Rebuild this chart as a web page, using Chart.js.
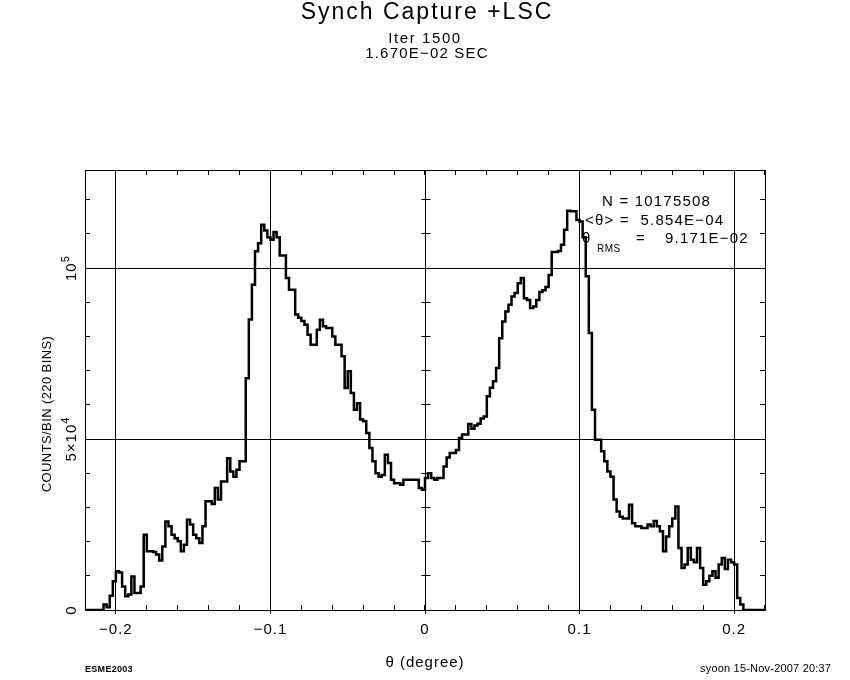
<!DOCTYPE html>
<html lang="en">
<head>
<meta charset="UTF-8">
<title>Synch Capture +LSC</title>
<script src="https://cdn.jsdelivr.net/npm/chart.js"></script>
<style>
  html, body { margin: 0; padding: 0; background: #fff; }
</style>
</head>
<body>
<canvas id="histo" width="850" height="680"></canvas>

<script>
// 220 bins between -0.22 and 0.22 degree
var xMin = -0.22, xMax = 0.22, nBins = 220;
var yMax = 128700;

// counts per bin
var counts = [
    0,     0,     0,     0,     0,     0,     0,  1600,   800,  4200,
 8400, 11300, 11000,  6900,  4000,  4500,  9800,  5000,  5000,  6900,
22000, 17200, 17200, 17000, 16200, 14500, 18600, 25900, 24500, 22000,
21000, 20100, 17200, 19100, 26400, 25000, 22000, 21000, 19600, 24500,
31800, 31800, 31000, 35700, 32300, 37600, 37600, 44400, 40500, 39000,
41000, 43500, 43500, 67800, 85000, 95100,104900,107300,112700,111000,
109000,108300,110600,109000,103700,103700, 97100, 93700, 93700, 86400,
85500, 84500, 83400, 80500, 77600, 77600, 82000, 84900, 83000, 82500,
82500, 80000, 77600, 77600, 74200, 64900, 69800, 63500, 58600, 60500,
55700, 55200, 51800, 47400, 43500, 40000, 39000, 39500, 45400, 43000,
38100, 37100, 37100, 36600, 38100, 38100, 38100, 38100, 38100, 35700,
35200, 38600, 40000, 38600, 38100, 38600, 38600, 42000, 44600, 45900,
45900, 46800, 50300, 51300, 51300, 54400, 53000, 54000, 54500, 56000,
56600, 62500, 65000, 66900, 70800, 79500, 84400, 87300, 89300, 91700,
92700, 95600, 97100, 91200, 90700, 88300, 88800, 90700, 93000, 93500,
94500, 98000,104700,104700,105000,106800,111200,116800,116600,116600,
114100,113600,109000, 97600, 81000, 58600, 49800, 49800, 46400, 43500,
40500, 39000, 32300, 28800, 27300, 26800, 26800, 30800, 25400, 24500,
24500, 24000, 24000, 25000, 24500, 26000, 24500, 23000, 17200, 21500,
24500, 26800, 30300, 18100, 12300, 13300, 18100, 14700, 14000, 18100,
12300,  7400,  8400, 10000, 11300,  9400, 13300, 15200, 12000, 14700,
14000, 13300,  3500,  1600,     0,     0,     0,     0,     0,     0
];

var xTickValues = [-0.2, -0.1, 0, 0.1, 0.2];
var xTickLabels = ['\u22120.2', '\u22120.1', '0', '0.1', '0.2'];
var yTickValues = [0, 50000, 100000];
// [base, superscript]
var yTickLabels = [['0', ''], ['5\u00d710', '4'], ['10', '5']];
var xMinorStep = 0.02, yMinorStep = 10000;

var titleText = 'Synch Capture +LSC';
var subTitle = ['Iter 1500', '1.670E\u221202 SEC'];
var statN = 'N = 10175508';
var statMean = '<\u03b8> =  5.854E\u221204';
var statRms = '9.171E\u221202';
var xTitle = '\u03b8 (degree)';
var yTitle = 'COUNTS/BIN (220 BINS)';
var footLeft = 'ESME2003';
var footRight = 'syoon 15-Nov-2007 20:37';

var FONT = '"Liberation Sans", Arial, sans-serif';

// step points: left edge of every bin, plus the closing edge
var points = [];
var binW = (xMax - xMin) / nBins;
for (var i = 0; i < nBins; i++) {
    points.push({x: xMin + i * binW, y: counts[i]});
}
points.push({x: xMax, y: counts[nBins - 1]});

function crisp(p) { return Math.round(p - 0.5) + 0.5; }

function text(ctx, s, x, y, size, align, spacing, style) {
    ctx.font = (style || '') + ' ' + size + 'px ' + FONT;
    ctx.letterSpacing = (spacing || 0) + 'px';
    ctx.textAlign = align || 'left';
    ctx.fillText(s, x, y);
}

var decor = {
    id: 'decor',
    beforeDatasetsDraw: function(chart) {
        var ctx = chart.ctx, a = chart.chartArea;
        var xs = chart.scales.x, ys = chart.scales.y;
        ctx.save();
        ctx.strokeStyle = '#000';
        ctx.lineWidth = 1;
        ctx.beginPath();
        // minor ticks along top and bottom
        for (var v = xMin; v <= xMax + 1e-9; v += xMinorStep) {
            var px = crisp(xs.getPixelForValue(v));
            ctx.moveTo(px, a.bottom); ctx.lineTo(px, a.bottom - 5);
            ctx.moveTo(px, a.top); ctx.lineTo(px, a.top + 5);
        }
        // majors stick out below the frame
        xTickValues.forEach(function(v) {
            var px = crisp(xs.getPixelForValue(v));
            ctx.moveTo(px, a.bottom); ctx.lineTo(px, a.bottom + 4);
        });
        // minor ticks on left, right and on the x=0 line
        var x0 = crisp(xs.getPixelForValue(0));
        for (var w = yMinorStep; w < yMax; w += yMinorStep) {
            var py = crisp(ys.getPixelForValue(w));
            ctx.moveTo(a.left, py); ctx.lineTo(a.left + 5, py);
            ctx.moveTo(a.right, py); ctx.lineTo(a.right - 5, py);
            ctx.moveTo(x0 - 4, py); ctx.lineTo(x0 + 5, py);
        }
        ctx.stroke();
        // frame
        ctx.strokeRect(crisp(a.left), crisp(a.top), Math.round(a.right - a.left), Math.round(a.bottom - a.top));

        // statistics
        ctx.fillStyle = '#000';
        ctx.textBaseline = 'alphabetic';
        text(ctx, statN, 602, 206, 15, 'left', 1.2);
        text(ctx, statMean, 585, 225, 15, 'left', 1.2);
        text(ctx, '\u03b8', 582, 243, 15, 'left', 0);
        text(ctx, 'RMS', 597, 252, 10, 'left', 0.5);
        text(ctx, '=', 636, 243, 15, 'left', 0);
        text(ctx, statRms, 665, 243, 15, 'left', 1.2);
        ctx.restore();
    },
    afterDraw: function(chart) {
        var ctx = chart.ctx;
        var xs = chart.scales.x, ys = chart.scales.y;
        ctx.save();
        ctx.fillStyle = '#000';
        ctx.textBaseline = 'alphabetic';

        text(ctx, titleText, 427, 19, 23, 'center', 2);
        text(ctx, subTitle[0], 425, 43, 15, 'center', 1.6);
        text(ctx, subTitle[1], 427, 58, 15, 'center', 1.2);

        // x tick labels
        xTickValues.forEach(function(v, k) {
            text(ctx, xTickLabels[k], xs.getPixelForValue(v), 634, 15, 'center', 1);
        });
        text(ctx, xTitle, 425, 667, 15, 'center', 1);

        // y tick labels, rotated
        yTickValues.forEach(function(v, k) {
            var base = yTickLabels[k][0], sup = yTickLabels[k][1];
            ctx.save();
            ctx.translate(76, ys.getPixelForValue(v));
            ctx.rotate(-Math.PI / 2);
            ctx.font = '15px ' + FONT;
            ctx.letterSpacing = '1px';
            var wb = ctx.measureText(base).width;
            ctx.font = '11px ' + FONT;
            var wsup = sup ? ctx.measureText(sup).width : 0;
            var start = -(wb + wsup) / 2;
            text(ctx, base, start, 0, 15, 'left', 1);
            if (sup) text(ctx, sup, start + wb, -7, 11, 'left', 0);
            ctx.restore();
        });

        ctx.save();
        ctx.translate(51, 414);
        ctx.rotate(-Math.PI / 2);
        text(ctx, yTitle, 0, 0, 13, 'center', 0.4);
        ctx.restore();

        text(ctx, footLeft, 85, 672, 9, 'left', 0.3, 'bold');
        text(ctx, footRight, 700, 672, 11, 'left', 0.2);
        ctx.restore();
    }
};

var ctx = document.getElementById('histo').getContext('2d');
var histo = new Chart(ctx, {
    type: 'line',
    data: {
        datasets: [{
            data: points,
            borderColor: '#000',
            borderWidth: 2.5,
            pointRadius: 0,
            stepped: 'after',
            fill: false
        }]
    },
    options: {
        responsive: false,
        animation: false,
        devicePixelRatio: 1,
        layout: { padding: { left: 85, right: 85, top: 170, bottom: 70 } },
        plugins: { legend: { display: false }, tooltip: { enabled: false } },
        scales: {
            x: {
                type: 'linear', min: xMin, max: xMax,
                afterBuildTicks: function(s) { s.ticks = xTickValues.map(function(v) { return {value: v}; }); },
                ticks: { display: false },
                grid: { color: '#000', lineWidth: 1, drawTicks: false },
                border: { display: false }
            },
            y: {
                type: 'linear', min: 0, max: yMax,
                afterBuildTicks: function(s) { s.ticks = yTickValues.map(function(v) { return {value: v}; }); },
                ticks: { display: false },
                grid: { color: '#000', lineWidth: 1, drawTicks: false },
                border: { display: false }
            }
        }
    },
    plugins: [decor]
});
</script>
</body>
</html>
